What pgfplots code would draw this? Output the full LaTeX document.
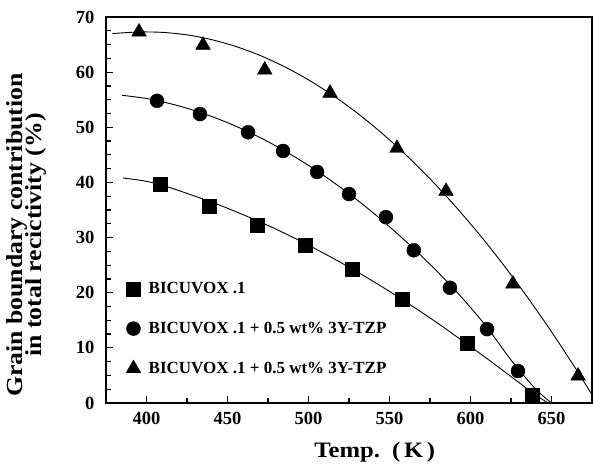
\documentclass[border=0pt]{standalone}
\usepackage{pgfplots}
\pgfplotsset{compat=1.18}
\usepackage{fontspec}
\setmainfont{Liberation Serif}
\newfontfamily\widefont[FakeStretch=1.12]{Liberation Serif}
\begin{document}
\begin{tikzpicture}
\begin{axis}[
  at={(0,0)}, anchor=south west,
  scale only axis,
  width=486pt, height=386pt,
  xmin=375, xmax=675, ymin=0, ymax=70,
  xtick={400,450,...,650}, ytick={0,10,...,70},
  minor x tick num=1, minor y tick num=3,
  tick align=inside, tick pos=left,
  major tick length=7pt, minor tick length=5pt,
  every tick/.style={black, line width=1.2pt},
  axis line style={line width=1.4pt},
  /pgf/number format/assume math mode=true,
  ticklabel style={font=\bfseries\fontsize{18.5}{20}\selectfont},
  xticklabel style={yshift=-6pt},
  yticklabel style={xshift=-8pt},
  xlabel={\widefont\bfseries Temp.\ \ (\,K\,)},
  xlabel style={font=\fontsize{22}{24}\selectfont, at={(axis description cs:0.553,-0.127)}, anchor=center},
  ylabel={\widefont\bfseries\begin{tabular}{c}Grain boundary contribution\\[-6pt] in total recictivity (\%)\end{tabular}},
  ylabel style={font=\fontsize{23}{25}\selectfont, at={(axis description cs:-0.163,0.435)}, anchor=center},
  legend style={draw=none, fill=none, at={(0.041,0.318)}, anchor=north west,
    font=\bfseries\fontsize{17}{19}\selectfont, row sep=23pt, inner sep=0pt},
  legend cell align=left,
  legend image code/.code={\path (0pt,0pt) (20pt,0pt);\draw[#1] plot coordinates {(7pt,0pt)};},
]
% fitted curves
\addplot[black, line width=0.9pt, smooth, forget plot] coordinates {
(379,67.0) (395,67.28) (410,67.21) (425,66.76) (440,65.91) (455,64.67) (470,63.04)
(485,61.01) (500,58.6) (515,55.79) (530,52.6) (545,49.01) (560,45.03) (575,40.66)
(590,35.89) (605,30.74) (620,25.19) (635,19.25) (650,12.92) (665,6.2) (675,1.5)};
\addplot[black, line width=0.9pt, smooth, forget plot] coordinates {
(385,55.8) (400,55.22) (415,54.26) (430,53.0) (445,51.43) (460,49.56) (475,47.39)
(490,44.91) (505,42.13) (520,39.05) (535,35.66) (550,31.97) (565,27.98) (580,23.68)
(595,19.0) (610,13.8) (625,7.8) (640,2.6) (650,0)};
\addplot[black, line width=0.9pt, smooth, forget plot] coordinates {
(385.5,40.8) (400,40.2) (415,39.0) (430,37.5) (445,35.9) (460,34.1) (475,32.2)
(490,30.1) (505,27.85) (520,25.46) (535,22.93) (550,20.24) (565,17.40) (580,14.42)
(595,11.29) (610,8.1) (625,4.8) (640,1.5) (648,0)};
% data
\addplot[only marks, mark=square*, mark size=7pt, black] coordinates {
(408.3,39.7) (438.6,35.7) (468.2,32.3) (497.8,28.7) (526.9,24.3) (557.7,18.9) (597.8,10.9) (638,1.5)};
\addlegendentry{BICUVOX .1}
\addplot[only marks, mark=*, mark size=7pt, black] coordinates {
(406.5,54.8) (433,52.4) (462.7,49.1) (484.3,45.7) (505.3,41.9) (525,37.9) (547.8,33.7)
(565,27.7) (587.3,20.9) (610.2,13.4) (629.3,5.8)};
\addlegendentry{BICUVOX .1 + 0.5 wt\% 3Y-TZP}
\addplot[only marks, mark=triangle*, mark size=8.5pt, black] coordinates {
(395.4,67.3) (434.9,64.9) (473,60.4) (513.3,56.2) (554.6,46.2) (584.9,38.4) (626.2,21.6) (666.4,4.9)};
\addlegendentry{BICUVOX .1 + 0.5 wt\% 3Y-TZP}
\end{axis}
\pgfresetboundingbox
\useasboundingbox (-106pt,-64pt) rectangle (487pt,403pt);
\end{tikzpicture}
\end{document}
